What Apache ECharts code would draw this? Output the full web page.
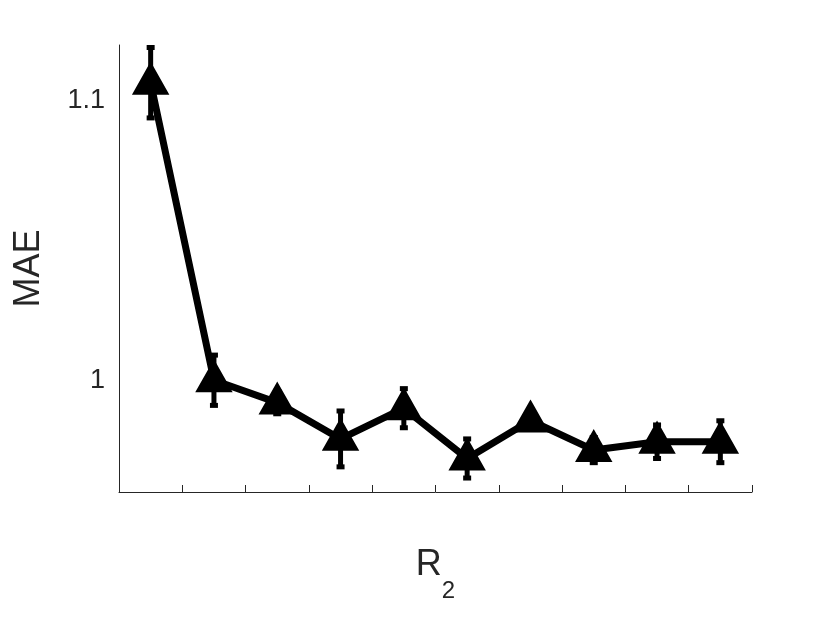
<!DOCTYPE html><html><head><meta charset="utf-8">
<script src="https://cdn.jsdelivr.net/npm/echarts@6/dist/echarts.min.js"></script>
<style>html,body{margin:0;background:#fff}#c{width:830px;height:623px}</style></head><body><div id="c"></div>
<script>
const xs=[1,2,3,4,5,6,7,8,9,10];
const mae=[1.1065,1.0,0.992,0.979,0.990,0.972,0.9856,0.975,0.978,0.978];
const err=[0.0126,0.009,0.004,0.010,0.007,0.007,0.003,0.0045,0.006,0.0075];
const xTicks=[1,3,5,7,9];
const yTicks=[1,1.1];
const chart=echarts.init(document.getElementById('c'));
chart.setOption({
 animation:false,
 grid:{left:119,right:78,top:45,bottom:131},
 xAxis:{type:'value',min:0.5,max:10.5,interval:1,
  axisLine:{lineStyle:{color:'#262626'}},axisTick:{inside:true,length:7,lineStyle:{color:'#262626'},interval:0},
  splitLine:{show:false},
  axisLabel:{fontSize:27,color:'#262626',margin:14,fontFamily:'Liberation Sans',
    formatter:v=>xTicks.includes(v)?String(v):''},
  name:'{a|R}{b|2}',nameLocation:'middle',nameGap:55,
  nameTextStyle:{rich:{a:{fontSize:36,color:'#262626',fontFamily:'Liberation Sans'},b:{fontSize:24,color:'#262626',verticalAlign:'bottom',padding:[0,0,-20,0],fontFamily:'Liberation Sans'}}}},
 yAxis:{type:'value',min:0.96,max:1.12,interval:0.02,
  axisLine:{show:true,lineStyle:{color:'#262626'}},axisTick:{show:false},splitLine:{show:false},
  axisLabel:{fontSize:27,color:'#262626',margin:14,fontFamily:'Liberation Sans',
   formatter:v=>{const r=Math.round(v*100)/100;return r===1?'1':(r===1.1?'1.1':'');}},
  name:'MAE',nameLocation:'middle',nameGap:72,nameTextStyle:{fontSize:36,color:'#262626',fontFamily:'Liberation Sans'}},
 series:[
  {type:'custom',data:xs.map((x,i)=>[x,mae[i]-err[i],mae[i]+err[i]]),z:3,
   renderItem:(p,api)=>{const a=api.coord([api.value(0),api.value(1)]),b=api.coord([api.value(0),api.value(2)]);
    const s={stroke:'#000',lineWidth:5};
    return {type:'group',children:[
     {type:'line',shape:{x1:a[0],y1:a[1],x2:b[0],y2:b[1]},style:s},
     {type:'line',shape:{x1:a[0]-4,y1:a[1],x2:a[0]+4,y2:a[1]},style:s},
     {type:'line',shape:{x1:b[0]-4,y1:b[1],x2:b[0]+4,y2:b[1]},style:s}]};}},
  {type:'line',data:xs.map((x,i)=>[x,mae[i]]),lineStyle:{color:'#000',width:7},
   symbol:'triangle',symbolSize:[34,30],symbolOffset:[0,-4],itemStyle:{color:'#000',borderColor:'#000',borderWidth:2},z:4}
 ]});
</script></body></html>
